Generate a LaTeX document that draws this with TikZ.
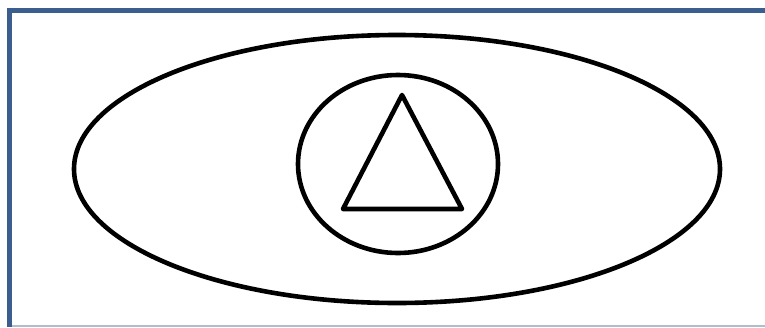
\documentclass[tikz,border=0pt]{standalone}
\usepackage{tikz}
\usetikzlibrary{shapes.geometric,positioning}
\definecolor{framecol}{RGB}{60,94,142}
\definecolor{baselinecol}{RGB}{178,188,202}
\tikzset{
  frameline/.style={draw=framecol, line width=5pt},
  shapeline/.style={draw=black, line width=4.6pt, line join=round}
}
\begin{document}
\begin{tikzpicture}[x=1pt, y=-1pt]
  \useasboundingbox (0,0) rectangle (765,327);
  % frame
  \coordinate (tl) at (9.5,10.8);
  \coordinate (tr) at (765,10.8);
  \coordinate (bl) at (9.5,327);
  \draw[frameline] (tr) -- (tl) -- (bl);
  \draw[baselinecol, line width=1.5pt] (12,326) -- (765,326);
  % shapes
  \coordinate (eye) at (397,169);
  \coordinate (iris) at (398,164);
  \draw[shapeline] (eye) ellipse [x radius=323, y radius=134];
  \draw[shapeline] (iris) ellipse [x radius=100, y radius=89];
  \coordinate (apex) at (402,95);
  \coordinate (left) at (343,209);
  \coordinate (right) at (462,209);
  \draw[shapeline] (apex) -- (left) -- (right) -- cycle;
\end{tikzpicture}
\end{document}
